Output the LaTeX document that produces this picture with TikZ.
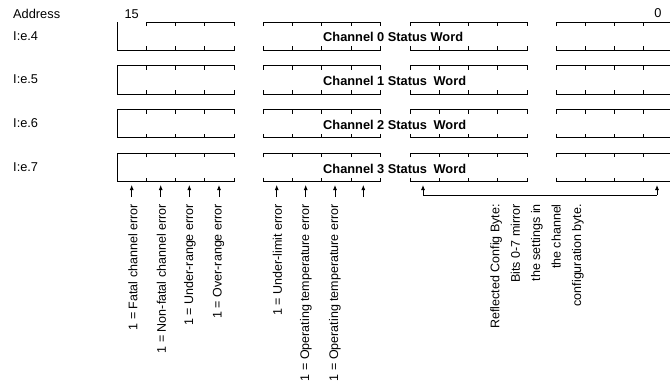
\documentclass[tikz,border=0pt]{standalone}
\usepackage{fontspec}
\setmainfont{Liberation Sans}
\usetikzlibrary{arrows.meta}
\begin{document}
\begin{tikzpicture}[x=1pt,y=-1pt,
  wire/.style={line width=0.9pt, line cap=butt, line join=miter, draw=black},
  arr/.style={line width=0.8pt, -{Latex[length=5pt,width=4pt]}},
  lbl/.style={inner sep=0pt, font=\fontsize{12.8}{15}\selectfont},
  ttl/.style={inner sep=0pt, font=\fontsize{12.8}{15}\selectfont\bfseries, anchor=base west},
  vlab/.style={inner sep=0pt, font=\fontsize{12.5}{15}\selectfont, rotate=90, anchor=east}]
\useasboundingbox (0,0) rectangle (670,384);
\def\w{29.3}
\def\h{28.3}
\def\tk{4}
% header labels
\node[lbl, anchor=base west] (addr) at (13,18) {Address};
\node[lbl, anchor=base] (b15) at (131.7,18) {15};
\node[lbl, anchor=base] (b0) at (658,17.5) {0};
% rows
\foreach \t/\n in {22/4,65.8/5,109.6/6,153.4/7} {
  \node[lbl, anchor=base west] (addr\n) at (13,\t+18) {I:e.\n};
  % groups 2-4
  \foreach \g in {263.3,410,556} {
    \draw[wire] (\g,\t+\tk) -- (\g,\t) -- (\g+4*\w,\t) -- (\g+4*\w,\t+\tk);
    \draw[wire] (\g,\t+\h-\tk) -- (\g,\t+\h) -- (\g+4*\w,\t+\h) -- (\g+4*\w,\t+\h-\tk);
    \foreach \k in {1,2,3} {
      \draw[wire] (\g+\k*\w,\t) -- (\g+\k*\w,\t+\tk);
      \draw[wire] (\g+\k*\w,\t+\h) -- (\g+\k*\w,\t+\h-\tk);
    }
  }
  % group 1
  \foreach \k in {2,3} {
    \draw[wire] (117+\k*\w,\t) -- (117+\k*\w,\t+\tk);
  }
  \foreach \k in {1,2,3} {
    \draw[wire] (117+\k*\w,\t+\h) -- (117+\k*\w,\t+\h-\tk);
  }
  \draw[wire] (117,\t) -- (117,\t+\h) -- (117+4*\w,\t+\h) -- (117+4*\w,\t+\h-\tk);
  \draw[wire] (117+\w,\t+\tk) -- (117+\w,\t) -- (117+4*\w,\t) -- (117+4*\w,\t+\tk);
}
% complete the top of bit 15 for rows 1-3
\foreach \t in {65.8,109.6,153.4} {
  \draw[wire] (117,\t) -- (117+\w,\t);
}
% channel titles
\node[ttl] (ch0) at (323,41.7) {Channel 0 Status Word};
\node[ttl] (ch1) at (323,85.5) {Channel 1 Status\hspace{3pt} Word};
\node[ttl] (ch2) at (323,129.3) {Channel 2 Status\hspace{3pt} Word};
\node[ttl] (ch3) at (323,173.1) {Channel 3 Status\hspace{3pt} Word};
% arrows
\foreach \x [count=\j] in {131.7,160.7,189.3,219,276.7,305.7,335,363.3} {
  \coordinate (p\j) at (\x,197);
  \coordinate (q\j) at (\x,185);
  \draw[arr] (p\j) -- (q\j);
}
% bit labels
\node[vlab] (l1) at (133,204) {1 = Fatal channel error};
\node[vlab] (l2) at (161.5,204) {1 = Non-fatal channel error};
\node[vlab] (l3) at (190,204) {1 = Under-range error};
\node[vlab] (l4) at (218.5,204) {1 = Over-range error};
\node[vlab] (l5) at (277.5,204) {1 = Under-limit error};
\node[vlab] (l6) at (306,204) {1 = Operating temperature error};
\node[vlab] (l7) at (335,204) {1 = Operating temperature error};
% config byte bracket
\coordinate (cl) at (423,195);
\coordinate (cr) at (657,195);
\coordinate (clt) at (423,185);
\coordinate (crt) at (657,185);
\draw[line width=0.8pt] (cl) -- (cr);
\draw[arr] (cl) -- (clt);
\draw[arr] (cr) -- (crt);
\node[vlab, align=right, font=\fontsize{12.5}{20.4}\selectfont] (cfg) at (537,204)
  {Reflected Config Byte:\\Bits 0-7 mirror\\the settings in\\the channel\\configuration byte.};
\end{tikzpicture}
\end{document}
